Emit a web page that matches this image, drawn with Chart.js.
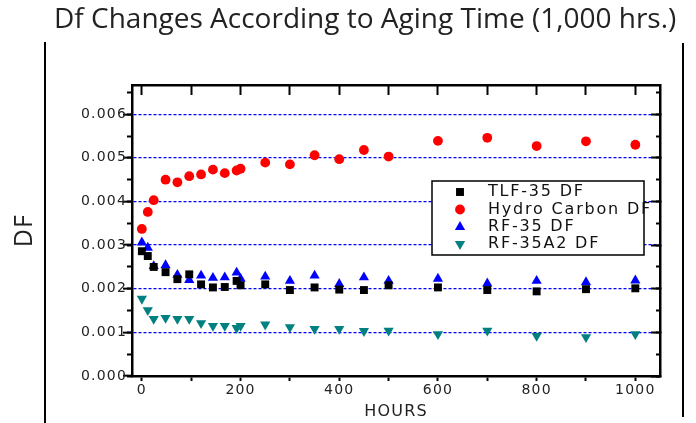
<!DOCTYPE html>
<html><head><meta charset="utf-8">
<script src="https://cdn.jsdelivr.net/npm/chart.js@4/dist/chart.umd.min.js"></script>
<style>html,body{margin:0;padding:0;background:#fff;overflow:hidden}</style>
</head><body>
<canvas id="c" width="696" height="423"></canvas>
<script>
// ---- data ----
const hours = [0, 12, 24, 48, 72, 96, 120, 144, 168, 192, 200, 250, 300, 350, 400, 450, 500, 600, 700, 800, 900, 1000];
const tlf35 = [0.00286, 0.00275, 0.00250, 0.00238, 0.00222, 0.00233, 0.00210, 0.00203, 0.00204, 0.00218, 0.00208, 0.00210, 0.00197, 0.00203, 0.00198, 0.00197, 0.00208, 0.00203, 0.00197, 0.00194, 0.00199, 0.00201];
const hydroCarbon = [0.00337, 0.00376, 0.00403, 0.00450, 0.00444, 0.00458, 0.00462, 0.00473, 0.00465, 0.00471, 0.00475, 0.00489, 0.00485, 0.00506, 0.00497, 0.00518, 0.00503, 0.00539, 0.00546, 0.00527, 0.00538, 0.00530];
const rf35 = [0.00306, 0.00294, 0.00252, 0.00254, 0.00232, 0.00220, 0.00230, 0.00225, 0.00226, 0.00237, 0.00223, 0.00228, 0.00218, 0.00230, 0.00211, 0.00226, 0.00218, 0.00223, 0.00212, 0.00218, 0.00215, 0.00219];
const rf35a2 = [0.00177, 0.00151, 0.00131, 0.00133, 0.00131, 0.00131, 0.00121, 0.00115, 0.00115, 0.00110, 0.00115, 0.00118, 0.00112, 0.00108, 0.00108, 0.00103, 0.00104, 0.00096, 0.00104, 0.00092, 0.00089, 0.00096];
const seriesNames = ['TLF-35 DF', 'Hydro Carbon DF', 'RF-35 DF', 'RF-35A2 DF'];
const titleText = 'Df Changes According to Aging Time (1,000 hrs.)';
const xTitle = 'HOURS';
const yTitle = 'DF';
const xMin = -20, xMax = 1050, xStep = 100, xLabelStep = 200;
const yMin = 0, yMax = 0.00667, yStep = 0.001, yMinorStep = 0.0005;

// ---- chart ----
const pts = arr => hours.map((h, i) => ({x: h, y: arr[i]}));
const black = '#000';
const textCol = '#222';
const fixW = w => s => { s.width = w; };
const fixH = h => s => { s.height = h; };

const decorPlugin = {
  id: 'decor',
  beforeDraw(chart) {
    chart.ctx.letterSpacing = '1.2px';
  },
  afterDraw(chart) {
    const ctx = chart.ctx;
    ctx.save();
    // outer vertical rules
    ctx.strokeStyle = black; ctx.lineWidth = 2;
    ctx.beginPath();
    ctx.moveTo(45, 42); ctx.lineTo(45, 423);
    ctx.moveTo(683, 43); ctx.lineTo(683, 417);
    ctx.stroke();
    // legend box
    ctx.fillStyle = '#fff';
    ctx.fillRect(432, 181, 212, 74);
    const rows = [192, 209.5, 227, 244];
    chart.data.datasets.forEach((ds, i) => {
      ctx.fillStyle = ds.backgroundColor;
      ctx.strokeStyle = ds.borderColor;
      Chart.helpers.drawPoint(ctx, {pointStyle: ds.pointStyle, radius: ds.pointRadius, rotation: ds.pointRotation || 0, borderWidth: 0}, 460, rows[i]);
    });
    ctx.lineWidth = 1.5; ctx.strokeStyle = black;
    ctx.strokeRect(432, 181, 212, 74);
    ctx.letterSpacing = '1.8px';
    ctx.font = '16px "DejaVu Sans"';
    ctx.fillStyle = '#111';
    ctx.textAlign = 'left'; ctx.textBaseline = 'middle';
    chart.data.datasets.forEach((ds, i) => ctx.fillText(ds.label, 488, rows[i]));
    // title
    ctx.letterSpacing = '0px';
    ctx.font = '28px "Open Sans"';
    ctx.fillStyle = textCol;
    ctx.textBaseline = 'alphabetic';
    ctx.fillText(titleText, 54, 28);
    ctx.restore();
  }
};

new Chart(document.getElementById('c'), {
  type: 'scatter',
  data: {
    datasets: [
      {label: seriesNames[0], data: pts(tlf35), pointStyle: 'rect', pointRadius: 5.6, backgroundColor: '#000', borderColor: '#000', borderWidth: 0},
      {label: seriesNames[1], data: pts(hydroCarbon), pointStyle: 'circle', pointRadius: 4.9, backgroundColor: '#ff0000', borderColor: '#ff0000', borderWidth: 0},
      {label: seriesNames[2], data: pts(rf35), pointStyle: 'triangle', pointRadius: 5.9, backgroundColor: '#0000ff', borderColor: '#0000ff', borderWidth: 0},
      {label: seriesNames[3], data: pts(rf35a2), pointStyle: 'triangle', pointRotation: 180, pointRadius: 5.9, backgroundColor: '#008080', borderColor: '#008080', borderWidth: 0}
    ]
  },
  options: {
    responsive: false,
    animation: false,
    layout: {padding: {left: 0, right: 36, top: 85, bottom: 0}},
    plugins: {legend: {display: false}, tooltip: {enabled: false}, title: {display: false}},
    scales: {
      x: {
        type: 'linear', position: 'bottom', min: xMin, max: xMax, afterFit: fixH(47),
        ticks: {stepSize: xStep, includeBounds: false, autoSkip: false, maxRotation: 0, padding: 1, color: textCol,
                font: {family: 'DejaVu Sans', size: 14},
                callback: v => (v % xLabelStep === 0 ? String(v) : '')},
        grid: {drawOnChartArea: false, tickLength: 5, tickColor: black, tickWidth: 2},
        border: {color: black, width: 2.5},
        title: {display: true, text: xTitle, color: textCol, font: {family: 'DejaVu Sans', size: 16}, padding: {top: 0, bottom: 2}}
      },
      xTop: {
        type: 'linear', position: 'top', min: xMin, max: xMax, afterFit: fixH(0),
        ticks: {display: false, stepSize: xStep, includeBounds: false, autoSkip: false},
        grid: {drawOnChartArea: false, tickLength: -10, tickColor: black, tickWidth: 2},
        border: {color: black, width: 2.5}
      },
      y: {
        type: 'linear', position: 'left', weight: 1, min: yMin, max: yMax, afterFit: fixW(132),
        ticks: {stepSize: yStep, includeBounds: false, padding: -4, color: textCol,
                font: {family: 'DejaVu Sans', size: 14}, callback: v => v.toFixed(3)},
        grid: {color: c => (c.tick && c.tick.value > 0 ? '#0000ff' : 'rgba(0,0,0,0)'), lineWidth: 1.3,
               tickLength: 9, tickColor: black, tickWidth: 2},
        border: {color: black, width: 2.5, dash: [3, 2]},
        title: {display: true, text: yTitle, color: textCol, font: {family: 'Open Sans', size: 25}, padding: {top: 10, bottom: 0}}
      },
      yMinor: {
        type: 'linear', position: 'left', weight: 0, min: yMin, max: yMax, afterFit: fixW(0),
        ticks: {display: false, stepSize: yMinorStep, includeBounds: false},
        grid: {drawOnChartArea: false, tickLength: 5, tickColor: black, tickWidth: 2},
        border: {display: false}
      },
      yRight: {
        type: 'linear', position: 'right', weight: 0, min: yMin, max: yMax, afterFit: fixW(0),
        ticks: {display: false, stepSize: yStep, includeBounds: false},
        grid: {drawOnChartArea: false, tickLength: -9, tickColor: black, tickWidth: 2},
        border: {color: black, width: 2.5}
      },
      yRightMinor: {
        type: 'linear', position: 'right', weight: 1, min: yMin, max: yMax, afterFit: fixW(0),
        ticks: {display: false, stepSize: yMinorStep, includeBounds: false},
        grid: {drawOnChartArea: false, tickLength: -4, tickColor: black, tickWidth: 2},
        border: {display: false}
      }
    }
  },
  plugins: [decorPlugin]
});
</script>
</body></html>
